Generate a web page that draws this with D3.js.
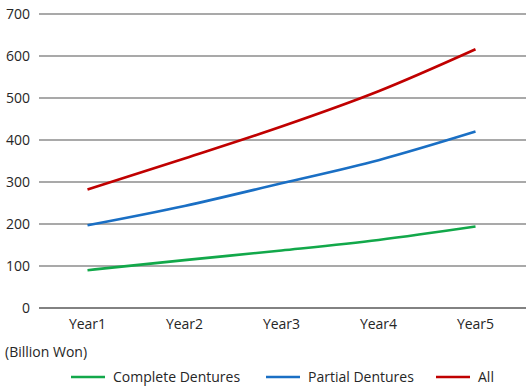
<!DOCTYPE html>
<html>
<head>
<meta charset="utf-8">
<script src="https://cdn.jsdelivr.net/npm/d3@7"></script>
<style>
  html, body { margin: 0; padding: 0; background: #fff; }
  svg { display: block; }
  text { font-family: "Open Sans", "Noto Sans", sans-serif; fill: #262626; }
</style>
</head>
<body>
<svg id="chart" width="526" height="386"></svg>
<script>
// Denture market size by year (Billion Won)
const categories = ["Year1", "Year2", "Year3", "Year4", "Year5"];
const completeDentures = [90, 114, 137, 162, 194];
const partialDentures = [197, 243, 297, 352, 420];
const allDentures = [282, 356, 432, 516, 616];
const yTicks = [0, 100, 200, 300, 400, 500, 600, 700];
const unitLabel = "(Billion Won)";

const series = [
  { name: "Complete Dentures", values: completeDentures, color: "#12a84a" },
  { name: "Partial Dentures", values: partialDentures, color: "#1a6fc4" },
  { name: "All", values: allDentures, color: "#c00000" }
];

const svg = d3.select("#chart");

const x = d3.scaleBand().domain(categories).range([39, 524]);
const y = d3.scaleLinear().domain([0, 700]).range([308, 14]);

// horizontal gridlines
svg.append("g")
  .selectAll("line")
  .data(yTicks)
  .join("line")
  .attr("x1", 39)
  .attr("x2", 526)
  .attr("y1", d => y(d))
  .attr("y2", d => y(d))
  .attr("stroke", d => d === 0 ? "#595959" : "#8c8c8c")
  .attr("stroke-width", 1.3);

// y-axis tick labels
svg.append("g")
  .selectAll("text")
  .data(yTicks)
  .join("text")
  .attr("x", 30)
  .attr("y", d => y(d) + 5)
  .attr("text-anchor", "end")
  .attr("font-size", 14)
  .text(d => d);

// category labels
svg.append("g")
  .selectAll("text")
  .data(categories)
  .join("text")
  .attr("x", d => x(d) + x.bandwidth() / 2)
  .attr("y", 329)
  .attr("text-anchor", "middle")
  .attr("font-size", 14)
  .text(d => d);

// unit label
svg.append("text")
  .attr("x", 5)
  .attr("y", 357)
  .attr("font-size", 14)
  .text(unitLabel);

// series lines
const line = d3.line()
  .x((d, i) => x(categories[i]) + x.bandwidth() / 2)
  .y(d => y(d))
  .curve(d3.curveMonotoneX);

svg.append("g")
  .selectAll("path")
  .data(series)
  .join("path")
  .attr("d", s => line(s.values))
  .attr("fill", "none")
  .attr("stroke", s => s.color)
  .attr("stroke-width", 2.6);

// legend
const legendX = [71, 266, 436];
const legend = svg.append("g")
  .selectAll("g")
  .data(series)
  .join("g")
  .attr("transform", (s, i) => `translate(${legendX[i]},377)`);

legend.append("line")
  .attr("x1", 0).attr("x2", 34)
  .attr("y1", 0).attr("y2", 0)
  .attr("stroke", s => s.color)
  .attr("stroke-width", 2.6);

legend.append("text")
  .attr("x", 42)
  .attr("y", 5)
  .attr("font-size", 14)
  .text(s => s.name);
</script>
</body>
</html>
